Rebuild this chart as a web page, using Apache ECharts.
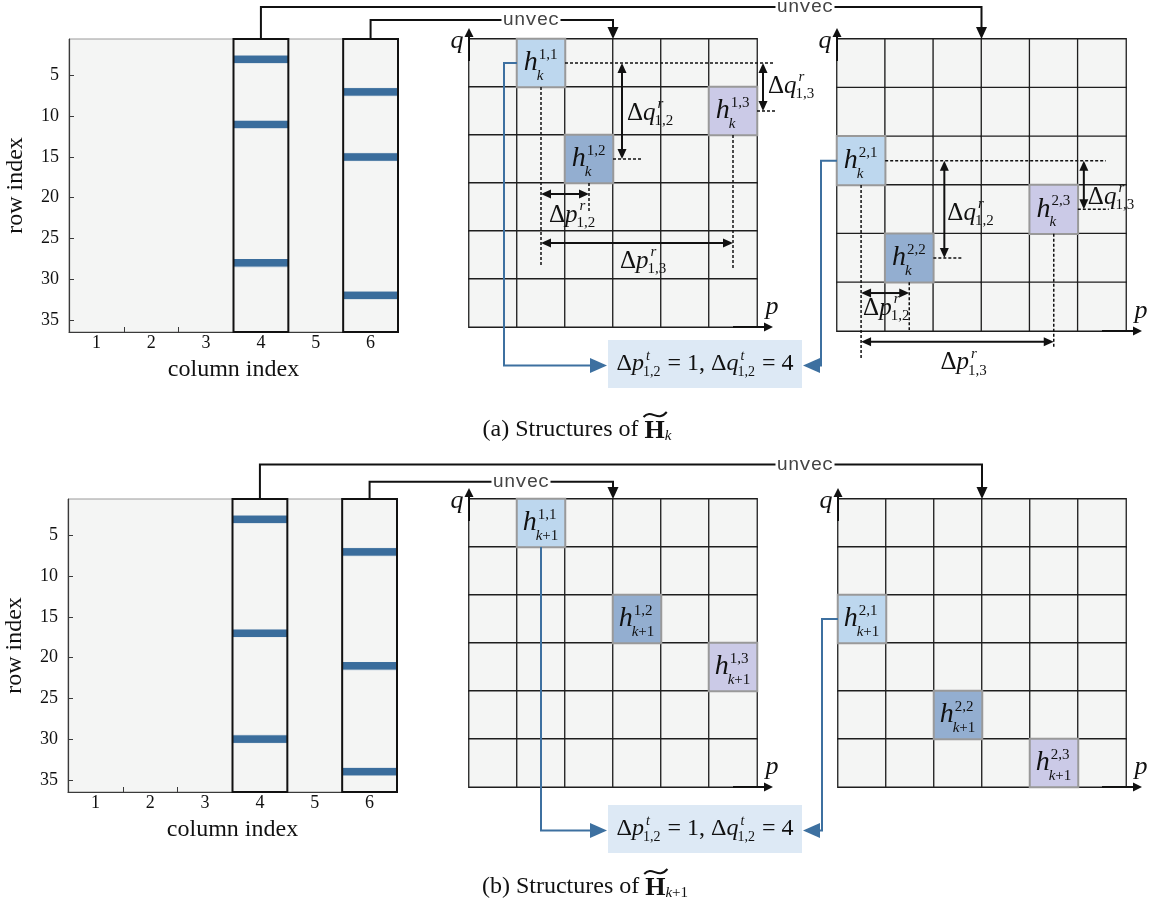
<!DOCTYPE html>
<html><head><meta charset="utf-8">
<script src="https://cdn.jsdelivr.net/npm/echarts@6/dist/echarts.min.js"></script>
<style>html,body{margin:0;padding:0;background:#fff}#c{width:1151px;height:905px}</style>
</head><body><div id="c"></div>
<script>
// ---------------- data ----------------
const columnIndex = ['1','2','3','4','5','6'];
const rowIndex = ['1','2','3','4','5','6','7','8','9','10','11','12','13','14','15','16','17','18',
                  '19','20','21','22','23','24','25','26','27','28','29','30','31','32','33','34','35','36'];
const rowTicks = ['5','10','15','20','25','30','35'];
const pIndex = ['1','2','3','4','5','6'];
const qIndex = ['1','2','3','4','5','6'];
const activeColumns = ['4','6'];
// non-zero rows of the active columns, structure (a) H_k and (b) H_{k+1}
const rowsA_col4 = [3, 11, 28];
const rowsA_col6 = [7, 15, 32];
const rowsB_col4 = [3, 17, 30];
const rowsB_col6 = [7, 21, 34];

// ---------------- styles / layout ----------------
const SERIF = "'Liberation Serif','Times New Roman',serif";
const MONO = "'Liberation Mono','Courier New',monospace";
const BAR = '#3a6d9c', CELLBG = '#f4f5f4', BLUE = '#3d70a0', BOXFILL = '#dde9f5';
const pathColors = ['#bdd7ee', '#93aed0', '#cbcae7'];
const GRIDS = [
  {left:69, top:39, width:329, height:293},
  {left:469, top:39, width:288, height:288},
  {left:837, top:39, width:289, height:292},
  {left:68, top:499, width:329, height:293},
  {left:469, top:499, width:288, height:288},
  {left:838, top:499, width:288, height:288}
];

function unvec(rows) { return rows.map(r => [Math.floor((r - 1) / qIndex.length), (r - 1) % qIndex.length]); }

const isTick = (i, v) => rowTicks.includes(v);
const axisCol = '#3a3a3a';
function hmX(g) {
  return {type:'category', gridIndex:g, data:columnIndex,
    axisLine:{show:true, lineStyle:{color:axisCol, width:1.2}},
    axisTick:{show:true, inside:true, length:5, lineStyle:{color:axisCol}},
    axisLabel:{color:'#111', fontFamily:SERIF, fontSize:18, margin:2},
    splitLine:{show:false},
    name:'column index', nameLocation:'middle', nameGap:26,
    nameTextStyle:{color:'#111', fontFamily:SERIF, fontSize:24}};
}
function hmY(g) {
  return {type:'category', gridIndex:g, data:rowIndex, inverse:true,
    axisLine:{show:true, lineStyle:{color:axisCol, width:1.2}},
    axisTick:{show:true, inside:true, length:5, alignWithLabel:true, interval:isTick, lineStyle:{color:axisCol}},
    axisLabel:{interval:isTick, color:'#111', fontFamily:SERIF, fontSize:18, margin:10},
    splitLine:{show:false},
    name:'row index', nameLocation:'middle', nameGap:41, nameRotate:90,
    nameTextStyle:{color:'#111', fontFamily:SERIF, fontSize:24}};
}
function gX(g) { return {type:'category', gridIndex:g, data:pIndex, show:false}; }
function gY(g) { return {type:'category', gridIndex:g, data:qIndex, inverse:true, show:false}; }

function barSeries(g, rows4, rows6) {
  const data = [];
  rows4.forEach(r => data.push([activeColumns[0], String(r), 1]));
  rows6.forEach(r => data.push([activeColumns[1], String(r), 1]));
  return {type:'heatmap', xAxisIndex:g, yAxisIndex:g, data, itemStyle:{color:BAR, borderColor:CELLBG, borderWidth:1}, emphasis:{disabled:true}, silent:true};
}
function gridSeries(g, rows) {
  const hi = unvec(rows);
  const base = [], top = [];
  pIndex.forEach((p, pi) => qIndex.forEach((q, qi) => {
    const j = hi.findIndex(c => c[0] === pi && c[1] === qi);
    if (j < 0) base.push({value:[p, q, 0]});
    else top.push({value:[p, q, j + 1], itemStyle:{color:pathColors[j], borderColor:'#999', borderWidth:2}});
  }));
  return {type:'heatmap', xAxisIndex:g, yAxisIndex:g, data:base.concat(top),
    itemStyle:{color:CELLBG, borderColor:'#1e1e1e', borderWidth:1.3}, emphasis:{disabled:true}, silent:true};
}

const chart = echarts.init(document.getElementById('c'));
chart.setOption({
  animation:false,
  backgroundColor:'#ffffff',
  grid: GRIDS.map((G, i) => Object.assign({show: i === 0 || i === 3, backgroundColor:CELLBG, borderColor:'#9a9a9a', borderWidth:1, outerBoundsMode:'none'}, G)),
  xAxis:[hmX(0), gX(1), gX(2), hmX(3), gX(4), gX(5)],
  yAxis:[hmY(0), gY(1), gY(2), hmY(3), gY(4), gY(5)],
  series:[
    barSeries(0, rowsA_col4, rowsA_col6), gridSeries(1, rowsA_col6), gridSeries(2, rowsA_col4),
    barSeries(3, rowsB_col4, rowsB_col6), gridSeries(4, rowsB_col6), gridSeries(5, rowsB_col4)
  ]
});

// ---------------- annotation helpers ----------------
const mctx = document.createElement('canvas').getContext('2d');
function tw(t, s, it, b, f) { mctx.font = (it ? 'italic ' : '') + (b ? 'bold ' : '') + s + 'px ' + (f || SERIF); return mctx.measureText(t).width; }
function txt(x, y, t, o) {
  o = o || {};
  const st = {text:t, fontSize:o.s || 18, fontFamily:o.f || SERIF, fontStyle:o.it ? 'italic' : 'normal',
    fontWeight:o.b ? 'bold' : 'normal', fill:o.c || '#111', align:o.a || 'left', verticalAlign:'middle'};
  if (o.bg) { st.backgroundColor = o.bg; st.padding = o.pad || [0, 2]; }
  return {type:'text', x, y, silent:true, z:200, style:st};
}
function partsW(parts, s) { return parts.reduce((a, p) => a + tw(p[0], s, p[1]), 0); }
function runs(tokens, x, y, align) {
  const ws = tokens.map(k => k.sup ? Math.max(partsW(k.sup, k.s) + (k.sx || 0), partsW(k.sub, k.s) + (k.bx || 0)) + 1 : tw(k.t, k.s, k.it, k.b));
  const total = ws.reduce((a, b) => a + b, 0);
  let cx = align === 'center' ? x - total / 2 : x;
  const els = [], xs = [];
  tokens.forEach((k, i) => {
    xs.push(cx);
    if (k.sup) {
      let px = cx + (k.sx || 0);
      k.sup.forEach(p => { els.push(txt(px, y - k.up, p[0], {s:k.s, it:p[1]})); px += tw(p[0], k.s, p[1]); });
      px = cx + (k.bx || 0);
      k.sub.forEach(p => { els.push(txt(px, y + k.dn, p[0], {s:k.s, it:p[1]})); px += tw(p[0], k.s, p[1]); });
    } else els.push(txt(cx, y + (k.dy || 0), k.t, {s:k.s, it:k.it, b:k.b}));
    cx += ws[i];
  });
  return {els, xs, ws, total};
}
function deltaLabel(letter, sup, sub, x, y) {
  return runs([{t:'Δ', s:25}, {t:letter, s:25, it:true},
    {sup:[[sup, true]], sub:[[sub, false]], s:15, up:9, dn:8, sx:2, bx:-1}], x, y, 'left').els;
}
function head(x, y, dir, len, half, color) {
  let pts;
  if (dir === 'down') pts = [[x, y], [x - half, y - len], [x + half, y - len]];
  if (dir === 'up') pts = [[x, y], [x - half, y + len], [x + half, y + len]];
  if (dir === 'right') pts = [[x, y], [x - len, y - half], [x - len, y + half]];
  if (dir === 'left') pts = [[x, y], [x + len, y - half], [x + len, y + half]];
  return {type:'polygon', silent:true, z:150, shape:{points:pts}, style:{fill:color, stroke:null}};
}
function seg(pts, color, w, dash) {
  return {type:'polyline', silent:true, z:140, shape:{points:pts}, style:{stroke:color, lineWidth:w, fill:null, lineDash:dash || null}};
}
function dotted(x1, y1, x2, y2) { return seg([[x1, y1], [x2, y2]], '#111', 1.5, [3, 2]); }
function dblV(x, y1, y2) { const L = 10; return [seg([[x, y1 + L - 1], [x, y2 - L + 1]], '#111', 2), head(x, y1, 'up', L, 4.5, '#111'), head(x, y2, 'down', L, 4.5, '#111')]; }
function dblH(y, x1, x2) { const L = 10; return [seg([[x1 + L - 1, y], [x2 - L + 1, y]], '#111', 2), head(x1, y, 'left', L, 4.5, '#111'), head(x2, y, 'right', L, 4.5, '#111')]; }
function cell(g, p, q) {
  const a = chart.convertToPixel({gridIndex:g}, [pIndex[p], qIndex[q]]);
  const G = GRIDS[g], w = G.width / pIndex.length, h = G.height / qIndex.length;
  return {cx:a[0], cy:a[1], w, h, l:a[0] - w / 2, r:a[0] + w / 2, t:a[1] - h / 2, b:a[1] + h / 2};
}

function buildSection(S) {
  const E = [];
  const H = GRIDS[S.hm], A = GRIDS[S.g1], B = GRIDS[S.g2];
  const colW = H.width / columnIndex.length;
  const colX = c => chart.convertToPixel({gridIndex:S.hm}, [c, rowIndex[0]])[0];
  const x4 = colX(activeColumns[0]), x6 = colX(activeColumns[1]);
  [x4, x6].forEach(x => E.push({type:'rect', silent:true, z:120, shape:{x:x - colW / 2, y:H.top, width:colW, height:H.height}, style:{fill:null, stroke:'#111', lineWidth:2}}));
  // unvec connectors
  const tB = B.left + B.width / 2, tA = A.left + A.width / 2;
  E.push(seg([[x4, H.top], [x4, S.y1], [tB, S.y1], [tB, B.top - 11]], '#111', 2));
  E.push(head(tB, B.top, 'down', 12, 5.5, '#111'));
  E.push(seg([[x6, H.top], [x6, S.y2], [tA, S.y2], [tA, A.top - 11]], '#111', 2));
  E.push(head(tA, A.top, 'down', 12, 5.5, '#111'));
  E.push(txt(S.u1x, S.y1, 'unvec', {f:MONO, s:19, c:'#444', a:'center', bg:'#fff', pad:[0, 1]}));
  E.push(txt(S.u2x, S.y2, 'unvec', {f:MONO, s:19, c:'#444', a:'center', bg:'#fff', pad:[0, 1]}));
  // p/q axis arrows
  [A, B].forEach(G => {
    const R = G.left + G.width, Bt = G.top + G.height;
    E.push(seg([[G.left, G.top + 22], [G.left, G.top - 9]], '#111', 2));
    E.push(head(G.left, G.top - 11, 'up', 9, 4.5, '#111'));
    E.push(txt(G.left - 12, G.top + 2, 'q', {s:26, it:true, a:'center'}));
    E.push(seg([[R - 24, Bt], [R + 8, Bt]], '#111', 2));
    E.push(head(R + 16, Bt, 'right', 9, 4.5, '#111'));
    E.push(txt(R + 15, Bt - 20, 'p', {s:26, it:true, a:'center'}));
  });
  // cells and labels
  const ca = unvec(S.rows6).map(([p, q]) => cell(S.g1, p, q));
  const cb = unvec(S.rows4).map(([p, q]) => cell(S.g2, p, q));
  const lab = (c, sup) => runs([{t:'h', s:28, it:true},
      {sup:[[sup, false]], sub:S.subParts, s:15, up:8, dn:13, sx:1, bx:-1}], c.cx, c.cy, 'center').els;
  ca.forEach((c, j) => E.push(...lab(c, '1,' + (j + 1))));
  cb.forEach((c, j) => E.push(...lab(c, '2,' + (j + 1))));
  // result box
  const bx = S.box, by = bx.y + bx.h / 2 + 1.5;
  E.push({type:'rect', silent:true, z:90, shape:{x:bx.x, y:bx.y, width:bx.w, height:bx.h}, style:{fill:BOXFILL, stroke:null}});
  E.push(...runs([{t:'Δ', s:24}, {t:'p', s:24, it:true}, {sup:[['t', true]], sub:[['1,2', false]], s:14, up:8, dn:8, sx:2, bx:-1},
    {t:' = 1, ', s:24}, {t:'Δ', s:24}, {t:'q', s:24, it:true}, {sup:[['t', true]], sub:[['1,2', false]], s:14, up:8, dn:8, sx:2, bx:-1},
    {t:' = 4', s:24}], bx.x + bx.w / 2, bx.y + bx.h / 2, 'center').els);
  // blue connectors
  const a1 = ca[0], b1 = cb[0];
  if (S.fromBottom) E.push(seg([[a1.cx, a1.b], [a1.cx, by], [bx.x - 15, by]], BLUE, 2));
  else E.push(seg([[a1.l, a1.cy], [a1.l - 13, a1.cy], [a1.l - 13, by], [bx.x - 15, by]], BLUE, 2));
  E.push(head(bx.x - 1, by, 'right', 17, 7.5, BLUE));
  E.push(seg([[b1.l, b1.cy], [B.left - 16, b1.cy], [B.left - 16, by], [bx.x + bx.w + 15, by]], BLUE, 2));
  E.push(head(bx.x + bx.w + 1, by, 'left', 17, 7.5, BLUE));
  // relative offsets
  if (S.deltas) {
    const [c1, c2, c3] = ca, R = A.left + A.width, h = A.height / 6;
    E.push(dotted(c1.r, c1.cy, R + 16, c1.cy));
    E.push(dotted(c1.cx, c1.b, c1.cx, A.top + 4.75 * h));
    E.push(dotted(c2.r, c2.cy, c2.r + 29, c2.cy));
    E.push(dotted(c2.cx, c2.b, c2.cx, c2.b + 30));
    E.push(dotted(c3.cx, c3.b, c3.cx, A.top + 4.8 * h));
    E.push(dotted(c3.r, c3.cy, R + 20, c3.cy));
    let ax = c2.r + 9; E.push(...dblV(ax, c1.cy, c2.cy)); E.push(...deltaLabel('q', 'r', '1,2', ax + 5, (c1.cy + c2.cy) / 2 + 2));
    ax = R + 6; E.push(...dblV(ax, c1.cy, c3.cy)); E.push(...deltaLabel('q', 'r', '1,3', ax + 5, (c1.cy + c3.cy) / 2 - 1));
    let ay = c2.b + 11; E.push(...dblH(ay, c1.cx, c2.cx)); E.push(...deltaLabel('p', 'r', '1,2', c1.cx + 8, ay + 21));
    ay = A.top + 4.25 * h; E.push(...dblH(ay, c1.cx, c3.cx)); E.push(...deltaLabel('p', 'r', '1,3', (c1.cx + c3.cx) / 2 - 17, ay + 18));

    const [d1, d2, d3] = cb, Bb = B.top + B.height;
    E.push(dotted(d1.r, d1.cy, d3.r + 28, d1.cy));
    E.push(dotted(d2.r, d2.cy, d2.r + 30, d2.cy));
    E.push(dotted(d3.r, d3.cy, d3.r + 31, d3.cy));
    E.push(dotted(d1.cx, d1.b, d1.cx, Bb + 27));
    E.push(dotted(d2.cx, d2.b, d2.cx, Bb - 1));
    E.push(dotted(d3.cx, d3.b, d3.cx, Bb + 16));
    let qx = d2.r + 11; E.push(...dblV(qx, d1.cy, d2.cy)); E.push(...deltaLabel('q', 'r', '1,2', qx + 3, (d1.cy + d2.cy) / 2 + 4));
    qx = d3.r + 6; E.push(...dblV(qx, d1.cy, d3.cy)); E.push(...deltaLabel('q', 'r', '1,3', qx + 4, (d1.cy + d3.cy) / 2 + 12));
    let py = d2.b + 10.7; E.push(...dblH(py, d1.cx, d2.cx)); E.push(...deltaLabel('p', 'r', '1,2', d1.cx + 2, py + 15));
    py = Bb + 10.7; E.push(...dblH(py, d1.cx, d3.cx)); E.push(...deltaLabel('p', 'r', '1,3', (d1.cx + d3.cx) / 2 - 17, py + 21));
  }
  // caption
  const cap = runs(S.caption, S.capX, S.capY, 'center');
  E.push(...cap.els);
  const x0 = cap.xs[1] - 1, w = cap.ws[1] + 3, y0 = S.capY - 15;
  E.push({type:'bezierCurve', silent:true, z:200, shape:{x1:x0, y1:y0 + 2, cpx1:x0 + w * 0.35, cpy1:y0 - 7, cpx2:x0 + w * 0.6, cpy2:y0 + 8, x2:x0 + w, y2:y0 - 3},
    style:{stroke:'#111', lineWidth:2, fill:null}});
  return E;
}

const elements = [].concat(
  buildSection({hm:0, g1:1, g2:2, rows4:rowsA_col4, rows6:rowsA_col6, y1:7, y2:20, u1x:805, u2x:531,
    box:{x:608, y:340, w:194, h:48}, subParts:[['k', true]], deltas:true, fromBottom:false,
    caption:[{t:'(a) Structures of ', s:24}, {t:'H', s:26, b:true, dy:1}, {t:'k', s:15, it:true, dy:6}], capX:577, capY:430}),
  buildSection({hm:3, g1:4, g2:5, rows4:rowsB_col4, rows6:rowsB_col6, y1:464.5, y2:481.7, u1x:805, u2x:521,
    box:{x:608, y:805, w:194, h:48}, subParts:[['k', true], ['+1', false]], deltas:false, fromBottom:true,
    caption:[{t:'(b) Structures of ', s:24}, {t:'H', s:26, b:true, dy:1}, {t:'k', s:15, it:true, dy:6}, {t:'+1', s:15, dy:6}], capX:585, capY:887})
);
chart.setOption({graphic:{elements}});
</script></body></html>
